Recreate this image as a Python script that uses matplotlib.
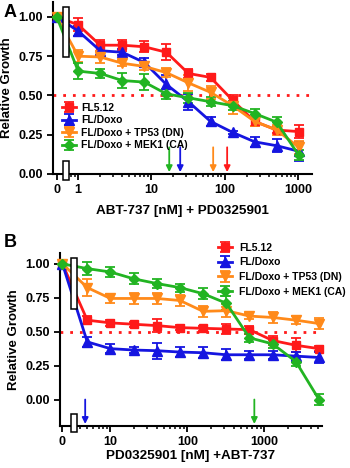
import numpy as np
import matplotlib
matplotlib.use('Agg')
import matplotlib.pyplot as plt
from matplotlib.patches import Rectangle
from matplotlib.ticker import LogLocator, NullFormatter, FixedLocator

plt.rcParams['font.family'] = ['Liberation Sans', 'DejaVu Sans']
plt.rcParams['font.weight'] = 'bold'

# ---- data, panel A (ABT-737 [nM] + PD0325901) ----
conc_a = [1, 2, 4, 8, 16, 32, 64, 128, 256, 512, 1024]
a_fl512 = [1.00, 0.95, 0.82, 0.82, 0.81, 0.775, 0.64, 0.615, 0.47, 0.335, 0.28, 0.27]
a_fl512_err = [0, 0.04, 0.035, 0.035, 0.035, 0.05, 0.03, 0.02, 0.03, 0.03, 0.02, 0.04]
a_doxo = [1.00, 0.91, 0.785, 0.775, 0.71, 0.57, 0.46, 0.335, 0.265, 0.205, 0.18, 0.145]
a_doxo_err = [0, 0.03, 0.03, 0.02, 0.03, 0.06, 0.05, 0.03, 0.01, 0.03, 0.04, 0.06]
a_tp53 = [1.00, 0.75, 0.745, 0.705, 0.685, 0.645, 0.58, 0.52, 0.435, 0.335, 0.28, 0.17]
a_tp53_err = [0, 0.04, 0.04, 0.02, 0.02, 0.03, 0.05, 0.04, 0.05, 0.03, 0.03, 0.04]
a_mek1 = [1.00, 0.655, 0.64, 0.595, 0.585, 0.51, 0.485, 0.46, 0.435, 0.385, 0.33, 0.12]
a_mek1_err = [0, 0.05, 0.03, 0.05, 0.05, 0.03, 0.03, 0.03, 0.03, 0.03, 0.03, 0.03]
arrows_a = {'#22b422': 17.5, '#1515e0': 24.7, '#ff8a1a': 69.6, '#ff1a1a': 108}

# ---- data, panel B (PD0325901 [nM] + ABT-737) ----
conc_b = [5, 10, 20, 40, 80, 160, 320, 640, 1280, 2560, 5120]
b_fl512 = [1.00, 0.585, 0.565, 0.555, 0.545, 0.53, 0.525, 0.52, 0.515, 0.435, 0.40, 0.375]
b_fl512_err = [0, 0.03, 0.02, 0.02, 0.05, 0.02, 0.02, 0.04, 0.03, 0.03, 0.05, 0.02]
b_doxo = [1.00, 0.425, 0.375, 0.365, 0.36, 0.35, 0.345, 0.33, 0.33, 0.33, 0.32, 0.31]
b_doxo_err = [0, 0.035, 0.035, 0.02, 0.06, 0.04, 0.04, 0.04, 0.03, 0.03, 0.03, 0.04]
b_tp53 = [1.00, 0.825, 0.745, 0.745, 0.745, 0.73, 0.65, 0.655, 0.615, 0.605, 0.585, 0.56]
b_tp53_err = [0, 0.06, 0.03, 0.04, 0.04, 0.04, 0.04, 0.05, 0.02, 0.04, 0.03, 0.04]
b_mek1 = [1.00, 0.965, 0.94, 0.89, 0.855, 0.825, 0.78, 0.71, 0.455, 0.41, 0.28, 0.00]
b_mek1_err = [0, 0.05, 0.04, 0.04, 0.03, 0.03, 0.04, 0.05, 0.03, 0.03, 0.03, 0.04]
arrows_b = {'#1515e0': 4.7, '#22b422': 740}

labels = ['FL5.12', 'FL/Doxo', 'FL/Doxo + TP53 (DN)', 'FL/Doxo + MEK1 (CA)']
colors = ['#ff1a1a', '#1515e0', '#ff8a1a', '#22b422']
markers = ['s', '^', 'v', 'D']
msizes = [6, 6.5, 6.5, 5.5]

W, H = 350, 468
fig = plt.figure(figsize=(W / 100, H / 100), dpi=100)


def px_axes(l, t, r, b):
    return fig.add_axes([l / W, 1 - b / H, (r - l) / W, (b - t) / H])


def draw_panel(ax, conc, series, errs, zero_x, xlim, ylim, brk_x, brk_top, brk_bot,
               majors, arrows, arrow_y, xlabel, px_per_dec, xlabelpad):
    xs = [zero_x] + conc
    for y, e, c, m, ms, lab in zip(series, errs, colors, markers, msizes, labels):
        ax.errorbar(xs, y, yerr=e, color=c, marker=m, ms=ms, lw=2, elinewidth=1.3,
                    capsize=3.5, capthick=1.3, label=lab, clip_on=False, zorder=3)
    ax.axhline(0.5, color='#ff1a1a', ls=(0, (1, 2.5)), lw=2, zorder=2)
    ax.set_xscale('log')
    ax.set_xlim(*xlim)
    ax.set_ylim(*ylim)
    ax.set_yticks([0, 0.25, 0.5, 0.75, 1.0])
    ax.set_yticklabels(['0.00', '0.25', '0.50', '0.75', '1.00'])
    ax.xaxis.set_major_locator(FixedLocator([zero_x] + majors))
    ax.set_xticklabels(['0'] + [str(m) for m in majors])
    ax.xaxis.set_minor_locator(LogLocator(base=10, subs=np.arange(2, 10)))
    ax.xaxis.set_minor_formatter(NullFormatter())
    minors = [v for v in ax.xaxis.get_minor_locator().tick_values(*xlim) if v > brk_x * 1.1]
    ax.xaxis.set_minor_locator(FixedLocator(minors))
    ax.tick_params(axis='both', which='major', length=4, width=1.3, labelsize=9, pad=3)
    ax.tick_params(axis='x', which='minor', length=2.5, width=1.1)
    for s in ['top', 'right']:
        ax.spines[s].set_visible(False)
    for s in ['left', 'bottom']:
        ax.spines[s].set_linewidth(1.5)
    ax.set_ylabel('Relative Growth', fontsize=9.5, fontweight='bold', labelpad=4)
    ax.set_xlabel(xlabel, fontsize=9.7, fontweight='bold', labelpad=xlabelpad)
    # axis-break boxes
    half = 10 ** (3 / px_per_dec)
    for y0, y1 in [brk_top, brk_bot]:
        ax.add_patch(Rectangle((brk_x / half, y0), brk_x * half - brk_x / half, y1 - y0,
                               facecolor='white', edgecolor='black', lw=1.1,
                               clip_on=False, zorder=5))
    for c, xv in arrows.items():
        ax.annotate('', xy=(xv, arrow_y[1]), xytext=(xv, arrow_y[0]),
                    arrowprops=dict(arrowstyle='-|>', color=c, lw=1.3, mutation_scale=9,
                                    shrinkA=0, shrinkB=0), zorder=4)


axA = px_axes(52.5, 2, 312, 174)
draw_panel(axA, conc_a, [a_fl512, a_doxo, a_tp53, a_mek1],
           [a_fl512_err, a_doxo_err, a_tp53_err, a_mek1_err],
           zero_x=0.51, xlim=(0.446, 1555), ylim=(0, 1.095), brk_x=0.686,
           brk_top=(0.745, 1.06), brk_bot=(-0.04, 0.08), majors=[1, 10, 100, 1000],
           arrows=arrows_a, arrow_y=(0.17, 0.012), xlabel='ABT-737 [nM] + PD0325901',
           px_per_dec=73.3, xlabelpad=7)
axA.legend(loc='upper left', bbox_to_anchor=(0.037, 0.415), frameon=False,
           handlelength=1.35, handletextpad=0.5, labelspacing=0.25, borderaxespad=0,
           borderpad=0, prop={'weight': 'bold', 'size': 7.5})

axB = px_axes(59.5, 253, 322, 426)
draw_panel(axB, conc_b, [b_fl512, b_doxo, b_tp53, b_mek1],
           [b_fl512_err, b_doxo_err, b_tp53_err, b_mek1_err],
           zero_x=2.38, xlim=(2.18, 5600), ylim=(-0.195, 1.08), brk_x=3.4,
           brk_top=(0.67, 1.04), brk_bot=(-0.24, -0.11), majors=[10, 100, 1000],
           arrows=arrows_b, arrow_y=(0.0, -0.18), xlabel='PD0325901 [nM] +ABT-737',
           px_per_dec=77, xlabelpad=2)
axB.legend(loc='upper left', bbox_to_anchor=(0.604, 1.06), frameon=False,
           handlelength=1.35, handletextpad=0.65, labelspacing=0.45, borderaxespad=0,
           borderpad=0, prop={'weight': 'bold', 'size': 7.5})

fig.text(4 / W, 1 - 4 / H, 'A', fontsize=13, fontweight='bold', va='top', ha='left')
fig.text(4 / W, 1 - 234 / H, 'B', fontsize=13, fontweight='bold', va='top', ha='left')

fig.savefig('out.png', dpi=100)
